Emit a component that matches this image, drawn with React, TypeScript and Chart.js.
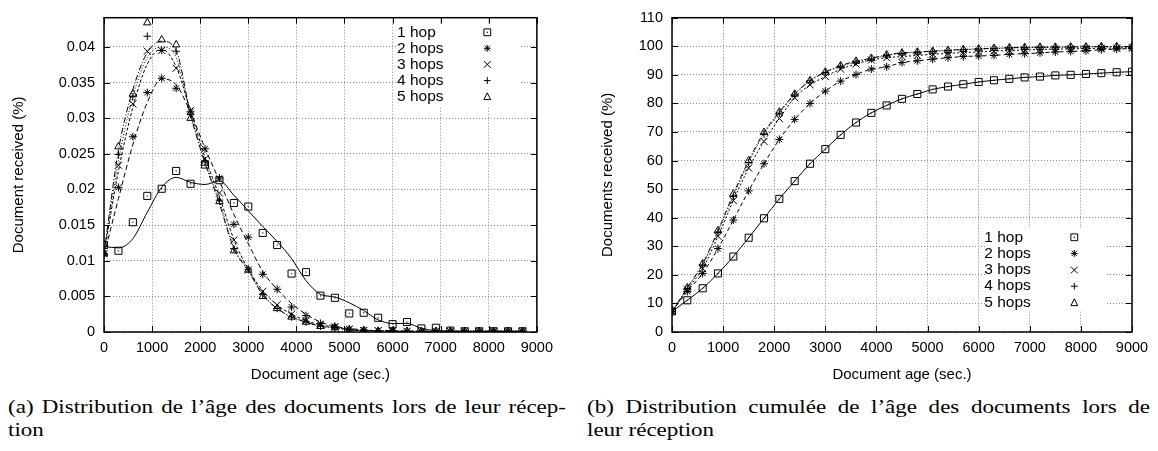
import React, { useEffect, useRef } from 'react';
import { Chart, registerables } from 'chart.js';

Chart.register(...registerables);

const SANS = "'Liberation Sans', Arial, sans-serif";
const SERIF = "'Liberation Serif', 'Times New Roman', serif";

// ---------- (a) distribution ----------
const agesA = [0, 300, 600, 900, 1200, 1500, 1800, 2100, 2400, 2700, 3000, 3300, 3600, 3900, 4200, 4500, 4800, 5100, 5400, 5700, 6000, 6300, 6600, 6900, 7200, 7500, 7800, 8100, 8400, 8700];

const distHop1 = [0.0122, 0.0114, 0.0154, 0.0191, 0.0201, 0.0226, 0.0208, 0.0235, 0.0213, 0.0181, 0.0176, 0.0139, 0.0122, 0.0082, 0.0084, 0.0051, 0.0048, 0.0026, 0.0027, 0.0020, 0.0011, 0.0014, 0.0005, 0.0006, 0.0002, 0.0001, 0.0001, 0.0001, 0.0001, 0.0001];
const distHop2 = [0.0109, 0.0203, 0.0274, 0.0336, 0.0356, 0.0342, 0.0309, 0.0257, 0.0216, 0.0151, 0.0133, 0.0081, 0.0060, 0.0035, 0.0023, 0.0012, 0.0008, 0.0004, 0.0003, 0.0002, 0.0002, 0.0001, 0.0001, 0.0001, 0.0001, 0.0001, 0.0001, 0.0001, 0.0001, 0.0001];
const distHop3 = [0.0110, 0.0234, 0.0320, 0.0394, 0.0395, 0.0370, 0.0311, 0.0243, 0.0195, 0.0129, 0.0087, 0.0057, 0.0038, 0.0025, 0.0016, 0.0010, 0.0007, 0.0004, 0.0002, 0.0002, 0.0001, 0.0001, 0.0001, 0.0001, 0.0001, 0.0001, 0.0001, 0.0001, 0.0001, 0.0001];
const distHop4 = [0.0110, 0.0249, 0.0330, 0.0415, 0.0395, 0.0394, 0.0305, 0.0240, 0.0185, 0.0117, 0.0088, 0.0053, 0.0033, 0.0021, 0.0014, 0.0008, 0.0006, 0.0003, 0.0002, 0.0001, 0.0001, 0.0001, 0.0001, 0.0001, 0.0001, 0.0001, 0.0001, 0.0001, 0.0001, 0.0001];
const distHop5 = [0.0110, 0.0260, 0.0334, 0.0434, 0.0410, 0.0403, 0.0300, 0.0237, 0.0183, 0.0114, 0.0087, 0.0050, 0.0033, 0.0021, 0.0014, 0.0008, 0.0006, 0.0003, 0.0002, 0.0001, 0.0001, 0.0001, 0.0001, 0.0001, 0.0001, 0.0001, 0.0001, 0.0001, 0.0001, 0.0001];

// smoothed curves
const curveHop1 = [0.0120, 0.0118, 0.0131, 0.0168, 0.0203, 0.0217, 0.0210, 0.0207, 0.0212, 0.0192, 0.0170, 0.0148, 0.0127, 0.0103, 0.0072, 0.0053, 0.0049, 0.0041, 0.0030, 0.0017, 0.0012, 0.0012, 0.0005, 0.0002, 0.0001, 0.0001, 0.0001, 0.0001, 0.0001, 0.0001];
const curveHop2 = [0.0108, 0.0187, 0.0263, 0.0322, 0.0355, 0.0347, 0.0308, 0.0258, 0.0212, 0.0165, 0.0124, 0.0085, 0.0060, 0.0040, 0.0025, 0.0014, 0.0008, 0.0005, 0.0003, 0.0002, 0.0002, 0.0001, 0.0001, 0.0001, 0.0001, 0.0001, 0.0001, 0.0001, 0.0001, 0.0001];
const curveHop3 = [0.0110, 0.0226, 0.0315, 0.0376, 0.0397, 0.0372, 0.0310, 0.0245, 0.0190, 0.0130, 0.0088, 0.0058, 0.0038, 0.0025, 0.0016, 0.0010, 0.0007, 0.0004, 0.0002, 0.0002, 0.0001, 0.0001, 0.0001, 0.0001, 0.0001, 0.0001, 0.0001, 0.0001, 0.0001, 0.0001];
const curveHop4 = [0.0110, 0.0240, 0.0330, 0.0385, 0.0400, 0.0385, 0.0305, 0.0240, 0.0184, 0.0118, 0.0088, 0.0053, 0.0033, 0.0021, 0.0014, 0.0008, 0.0006, 0.0003, 0.0002, 0.0001, 0.0001, 0.0001, 0.0001, 0.0001, 0.0001, 0.0001, 0.0001, 0.0001, 0.0001, 0.0001];
const curveHop5 = [0.0110, 0.0255, 0.0340, 0.0392, 0.0408, 0.0395, 0.0305, 0.0237, 0.0180, 0.0117, 0.0086, 0.0052, 0.0033, 0.0021, 0.0014, 0.0008, 0.0006, 0.0003, 0.0002, 0.0001, 0.0001, 0.0001, 0.0001, 0.0001, 0.0001, 0.0001, 0.0001, 0.0001, 0.0001, 0.0001];

// ---------- (b) cumulative ----------
const agesB = [0, 300, 600, 900, 1200, 1500, 1800, 2100, 2400, 2700, 3000, 3300, 3600, 3900, 4200, 4500, 4800, 5100, 5400, 5700, 6000, 6300, 6600, 6900, 7200, 7500, 7800, 8100, 8400, 8700, 9000];

const cumHop1 = [7.2, 11.1, 15.3, 20.5, 26.4, 33.0, 39.8, 46.6, 52.8, 58.9, 64.0, 69.0, 73.3, 76.7, 79.3, 81.6, 83.3, 84.9, 85.9, 86.7, 87.5, 88.1, 88.6, 89.1, 89.4, 89.8, 90.0, 90.3, 90.6, 90.9, 91.1];
const cumHop2 = [7.2, 14.2, 20.5, 29.2, 39.2, 49.4, 58.9, 67.4, 74.4, 80.0, 84.3, 87.8, 90.1, 92.0, 92.8, 94.3, 94.9, 95.5, 96.0, 96.4, 96.6, 96.8, 97.2, 97.4, 97.7, 98.0, 98.2, 98.4, 98.8, 99.0, 99.2];
const cumHop3 = [7.2, 14.8, 22.2, 33.5, 46.0, 57.4, 66.7, 74.7, 82.0, 86.5, 89.4, 92.0, 93.8, 95.2, 96.0, 96.4, 96.8, 97.2, 97.5, 97.8, 98.0, 98.3, 98.5, 98.7, 98.9, 99.0, 99.1, 99.2, 99.3, 99.4, 99.5];
const cumHop4 = [7.2, 15.2, 23.5, 35.0, 47.5, 59.3, 69.3, 76.6, 83.0, 87.9, 90.8, 93.0, 94.5, 95.5, 96.8, 97.5, 97.9, 98.2, 98.5, 98.8, 99.0, 99.2, 99.4, 99.5, 99.6, 99.7, 99.7, 99.8, 99.8, 99.8, 99.8];
const cumHop5 = [7.2, 15.5, 23.9, 35.5, 48.3, 60.0, 69.9, 77.0, 83.3, 88.0, 91.0, 93.2, 94.8, 95.8, 97.0, 97.7, 98.0, 98.3, 98.6, 98.9, 99.1, 99.3, 99.5, 99.6, 99.7, 99.7, 99.8, 99.8, 99.9, 99.9, 99.9];

const seriesLabels = ['1 hop', '2 hops', '3 hops', '4 hops', '5 hops'];
const xTicks = [0, 1000, 2000, 3000, 4000, 5000, 6000, 7000, 8000, 9000];

type Mk = 'square' | 'star' | 'x' | 'plus' | 'triangle';
const markers: Mk[] = ['square', 'star', 'x', 'plus', 'triangle'];
const chartStyles: Record<Mk, { style: string; radius: number }> = {
  square: { style: 'rect', radius: 5 },
  star: { style: 'star', radius: 4 },
  x: { style: 'crossRot', radius: 5 },
  plus: { style: 'cross', radius: 3.8 },
  triangle: { style: 'triangle', radius: 4.3 },
};
const dashesA = [[], [5, 3], [3, 2], [1, 2], [6, 2, 1, 2]];
const dashesB = [[], [4, 3], [2, 2], [1, 2], [5, 2, 1, 2]];

function drawMarker(ctx: CanvasRenderingContext2D, m: Mk, x: number, y: number) {
  ctx.beginPath();
  const s = 3.4;
  if (m === 'square') {
    ctx.rect(x - s, y - s, 2 * s, 2 * s);
    ctx.stroke();
    ctx.fillRect(x - 0.6, y - 0.6, 1.2, 1.2);
    return;
  }
  if (m === 'star' || m === 'plus') {
    ctx.moveTo(x - s, y); ctx.lineTo(x + s, y);
    ctx.moveTo(x, y - s); ctx.lineTo(x, y + s);
  }
  if (m === 'star' || m === 'x') {
    const d = m === 'star' ? s * 0.75 : s;
    ctx.moveTo(x - d, y - d); ctx.lineTo(x + d, y + d);
    ctx.moveTo(x - d, y + d); ctx.lineTo(x + d, y - d);
  }
  if (m === 'triangle') {
    ctx.moveTo(x, y - s - 0.5);
    ctx.lineTo(x + s, y + s - 0.5);
    ctx.lineTo(x - s, y + s - 0.5);
    ctx.closePath();
  }
  ctx.stroke();
}

interface LegendSpec { textX: number; markX: number; rows: number[]; box: [number, number, number, number]; }

function framePlugin(legend: LegendSpec) {
  return {
    id: 'gnuframe',
    beforeDatasetsDraw(chart: any) {
      const ctx: CanvasRenderingContext2D = chart.ctx;
      ctx.save();
      const [bx, by, bw, bh] = legend.box;
      ctx.fillStyle = '#ffffff';
      ctx.fillRect(bx, by, bw, bh);
      ctx.fillStyle = '#000';
      ctx.strokeStyle = '#000';
      ctx.lineWidth = 1;
      ctx.font = `15.5px ${SANS}`;
      ctx.textAlign = 'left';
      ctx.textBaseline = 'middle';
      seriesLabels.forEach((lab, i) => {
        ctx.fillText(lab, legend.textX, legend.rows[i]);
        drawMarker(ctx, markers[i], legend.markX, legend.rows[i]);
      });
      ctx.restore();
    },
    afterDraw(chart: any) {
      const ctx: CanvasRenderingContext2D = chart.ctx;
      const a = chart.chartArea;
      const xs = chart.scales.x;
      const ys = chart.scales.y;
      ctx.save();
      ctx.strokeStyle = '#000';
      ctx.lineWidth = 1;
      ctx.beginPath();
      xs.ticks.forEach((t: any) => {
        const px = Math.round(xs.getPixelForValue(t.value)) + 0.5;
        ctx.moveTo(px, a.bottom); ctx.lineTo(px, a.bottom - 6);
        ctx.moveTo(px, a.top); ctx.lineTo(px, a.top + 6);
      });
      ys.ticks.forEach((t: any) => {
        const py = Math.round(ys.getPixelForValue(t.value)) + 0.5;
        ctx.moveTo(a.left, py); ctx.lineTo(a.left + 6, py);
        ctx.moveTo(a.right, py); ctx.lineTo(a.right - 6, py);
      });
      ctx.stroke();
      ctx.lineWidth = 1.5;
      ctx.strokeRect(a.left, a.top, a.right - a.left, a.bottom - a.top);
      ctx.restore();
    },
  };
}

function baseOptions(opts: {
  yMin: number; yMax: number; yStep: number; yFmt: (v: number) => string;
  yTitle: string; yTitlePad: number; yWidth: number; xHeight: number;
  padTop: number; padRight: number;
}) {
  const grid = { color: '#8a8a8a', lineWidth: 1, drawTicks: false };
  const border = { display: false, dash: [1, 2] };
  return {
    responsive: false,
    animation: false as const,
    events: [],
    layout: { padding: { top: opts.padTop, right: opts.padRight, left: 0, bottom: 0 } },
    plugins: { legend: { display: false }, tooltip: { enabled: false } },
    scales: {
      x: {
        type: 'linear' as const,
        min: 0, max: 9000,
        grid, border,
        afterBuildTicks: (s: any) => { s.ticks = xTicks.map((v) => ({ value: v })); },
        afterFit: (s: any) => { s.height = opts.xHeight; },
        ticks: {
          color: '#000', padding: 7, maxRotation: 0, autoSkip: false,
          font: { family: SANS, size: 14.5 },
          callback: (v: any) => String(v),
        },
        title: {
          display: true, text: 'Document age (sec.)', color: '#000',
          font: { family: SANS, size: 15 }, padding: { top: 0, bottom: 3 },
        },
      },
      y: {
        type: 'linear' as const,
        min: opts.yMin, max: opts.yMax,
        grid, border,
        afterFit: (s: any) => { s.width = opts.yWidth; },
        ticks: {
          color: '#000', padding: 9, stepSize: opts.yStep, includeBounds: false,
          font: { family: SANS, size: 14.5 },
          callback: (v: any) => opts.yFmt(Number(v)),
        },
        title: {
          display: true, text: opts.yTitle, color: '#000',
          font: { family: SANS, size: 15 }, padding: { top: opts.yTitlePad, bottom: 0 },
        },
      },
    },
  };
}

function pts(xs: number[], ys: number[]) {
  return xs.map((x, i) => ({ x, y: ys[i] }));
}

export default function App() {
  const refA = useRef<HTMLCanvasElement | null>(null);
  const refB = useRef<HTMLCanvasElement | null>(null);

  useEffect(() => {
    const distSeries = [distHop1, distHop2, distHop3, distHop4, distHop5];
    const curveSeries = [curveHop1, curveHop2, curveHop3, curveHop4, curveHop5];
    const dsA: any[] = [];
    curveSeries.forEach((c, i) => {
      dsA.push({
        data: pts(agesA, c), showLine: true, pointRadius: 0,
        borderColor: '#000', borderWidth: 1, borderDash: dashesA[i],
        cubicInterpolationMode: 'monotone', fill: false,
      });
    });
    distSeries.forEach((d, i) => {
      const st = chartStyles[markers[i]];
      dsA.push({
        data: pts(agesA, d), showLine: false,
        pointStyle: st.style, pointRadius: st.radius,
        pointBorderColor: '#000', pointBackgroundColor: 'rgba(0,0,0,0)', pointBorderWidth: 1,
      });
    });
    dsA.push({
      data: pts(agesA, distHop1), showLine: false, pointStyle: 'rect', pointRadius: 0.9,
      pointBorderWidth: 0, pointBackgroundColor: '#444',
    });

    const chartA = new Chart(refA.current as HTMLCanvasElement, {
      type: 'scatter',
      data: { datasets: dsA },
      options: baseOptions({
        yMin: 0, yMax: 0.0441, yStep: 0.005,
        yFmt: (v) => String(parseFloat(v.toFixed(3))),
        yTitle: 'Document received (%)', yTitlePad: 9.5, yWidth: 104, xHeight: 55,
        padTop: 8.3, padRight: 16,
      }) as any,
      plugins: [framePlugin({ textX: 397, markX: 487.3, rows: [32.3, 48.3, 64.4, 80.6, 96.7], box: [398, 24, 121, 82] })],
    });

    const cumSeries = [cumHop1, cumHop2, cumHop3, cumHop4, cumHop5];
    const dsB: any[] = [];
    cumSeries.forEach((d, i) => {
      const st = chartStyles[markers[i]];
      dsB.push({
        data: pts(agesB, d), showLine: true, tension: 0.3,
        borderColor: '#000', borderWidth: 1, borderDash: dashesB[i],
        pointStyle: st.style, pointRadius: st.radius,
        pointBorderColor: '#000', pointBackgroundColor: 'rgba(0,0,0,0)', pointBorderWidth: 1,
      });
    });
    dsB.push({
      data: pts(agesB, cumHop1), showLine: false, pointStyle: 'rect', pointRadius: 0.9,
      pointBorderWidth: 0, pointBackgroundColor: '#444',
    });

    const chartB = new Chart(refB.current as HTMLCanvasElement, {
      type: 'scatter',
      data: { datasets: dsB },
      options: baseOptions({
        yMin: 0, yMax: 110, yStep: 10,
        yFmt: (v) => String(Math.round(v)),
        yTitle: 'Documents received (%)', yTitlePad: 19, yWidth: 92, xHeight: 55,
        padTop: 8.7, padRight: 26,
      }) as any,
      plugins: [framePlugin({ textX: 404.3, markX: 494.3, rows: [237.3, 253.4, 270, 286.2, 302.7], box: [405, 228, 120, 83] })],
    });

    return () => { chartA.destroy(); chartB.destroy(); };
  }, []);

  const SX = 1.18;
  const capStyle: React.CSSProperties = {
    position: 'absolute', fontFamily: SERIF, fontSize: 19.5, lineHeight: '23px', color: '#000',
    whiteSpace: 'nowrap', transform: `scaleX(${SX})`, transformOrigin: '0 0',
  };
  const justify: React.CSSProperties = { textAlign: 'justify', textAlignLast: 'justify', whiteSpace: 'normal' } as any;

  return (
    <div style={{ position: 'absolute', left: 0, top: 0, width: 1158, height: 451, background: '#fff', overflow: 'hidden' }}>
      <canvas ref={refA} width={560} height={387} style={{ position: 'absolute', left: 0, top: 0, width: 560, height: 387 }} />
      <canvas ref={refB} width={578} height={387} style={{ position: 'absolute', left: 580, top: 0, width: 578, height: 387 }} />
      <div style={{ ...capStyle, left: 8, top: 394.5, width: 558 / SX, ...justify }}>
        (a) Distribution de l’âge des documents lors de leur récep-
      </div>
      <div style={{ ...capStyle, left: 8, top: 417.5 }}>tion</div>
      <div style={{ ...capStyle, left: 587, top: 394.5, width: 563 / SX, ...justify }}>
        (b) Distribution cumulée de l’âge des documents lors de
      </div>
      <div style={{ ...capStyle, left: 587, top: 417.5 }}>leur réception</div>
    </div>
  );
}
